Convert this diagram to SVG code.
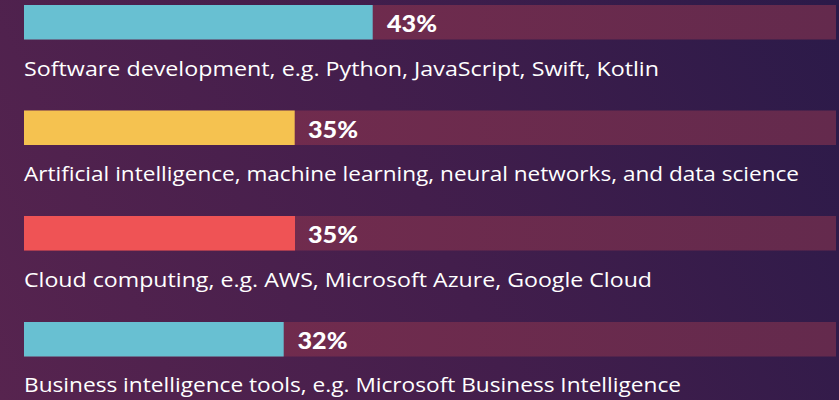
<svg xmlns="http://www.w3.org/2000/svg" width="839" height="400" viewBox="0 0 839 400">
<defs>
<linearGradient id="bg" x1="0" y1="400" x2="839" y2="0" gradientUnits="userSpaceOnUse">
<stop offset="0" stop-color="#57244f"/>
<stop offset="0.5" stop-color="#431e4c"/>
<stop offset="1" stop-color="#2b1a49"/>
</linearGradient>
<linearGradient id="track" x1="0" y1="0" x2="1" y2="0">
<stop offset="0" stop-color="#762c4e"/>
<stop offset="1" stop-color="#642a4d"/>
</linearGradient>
<style>
.track{fill:url(#track)}
.pct{font-family:Lato,"Open Sans",sans-serif;font-weight:900;font-size:23px;fill:#ffffff}
.lbl{font-family:"Open Sans","Noto Sans",sans-serif;font-size:20px;fill:#ffffff}
</style>
</defs>
<rect width="839" height="400" fill="url(#bg)"/>
<g id="bar-software">
<rect class="track" x="24" y="5" width="812" height="34.5"/>
<rect x="24" y="5" width="348.7" height="34.5" fill="#68c0d2"/>
<text class="pct" x="387" y="32" textLength="50" lengthAdjust="spacingAndGlyphs">43%</text>
<text class="lbl" x="24" y="75.5" textLength="635" lengthAdjust="spacingAndGlyphs">Software development, e.g. Python, JavaScript, Swift, Kotlin</text>
</g>
<g id="bar-ai">
<rect class="track" x="24" y="110.5" width="812" height="34.5"/>
<rect x="24" y="110.5" width="270.7" height="34.5" fill="#f5c250"/>
<text class="pct" x="308" y="137.5" textLength="50" lengthAdjust="spacingAndGlyphs">35%</text>
<text class="lbl" x="24" y="181" textLength="775" lengthAdjust="spacingAndGlyphs">Artificial intelligence, machine learning, neural networks, and data science</text>
</g>
<g id="bar-cloud">
<rect class="track" x="24" y="216" width="812" height="34.5"/>
<rect x="24" y="216" width="271" height="34.5" fill="#ef5355"/>
<text class="pct" x="308" y="243" textLength="50" lengthAdjust="spacingAndGlyphs">35%</text>
<text class="lbl" x="24" y="286.5" textLength="628" lengthAdjust="spacingAndGlyphs">Cloud computing, e.g. AWS, Microsoft Azure, Google Cloud</text>
</g>
<g id="bar-bi">
<rect class="track" x="24" y="322" width="812" height="34.5"/>
<rect x="24" y="322" width="259.7" height="34.5" fill="#68c0d2"/>
<text class="pct" x="297.5" y="349" textLength="50" lengthAdjust="spacingAndGlyphs">32%</text>
<text class="lbl" x="24" y="392" textLength="657" lengthAdjust="spacingAndGlyphs">Business intelligence tools, e.g. Microsoft Business Intelligence</text>
</g>
<g id="connectors"/>
</svg>
